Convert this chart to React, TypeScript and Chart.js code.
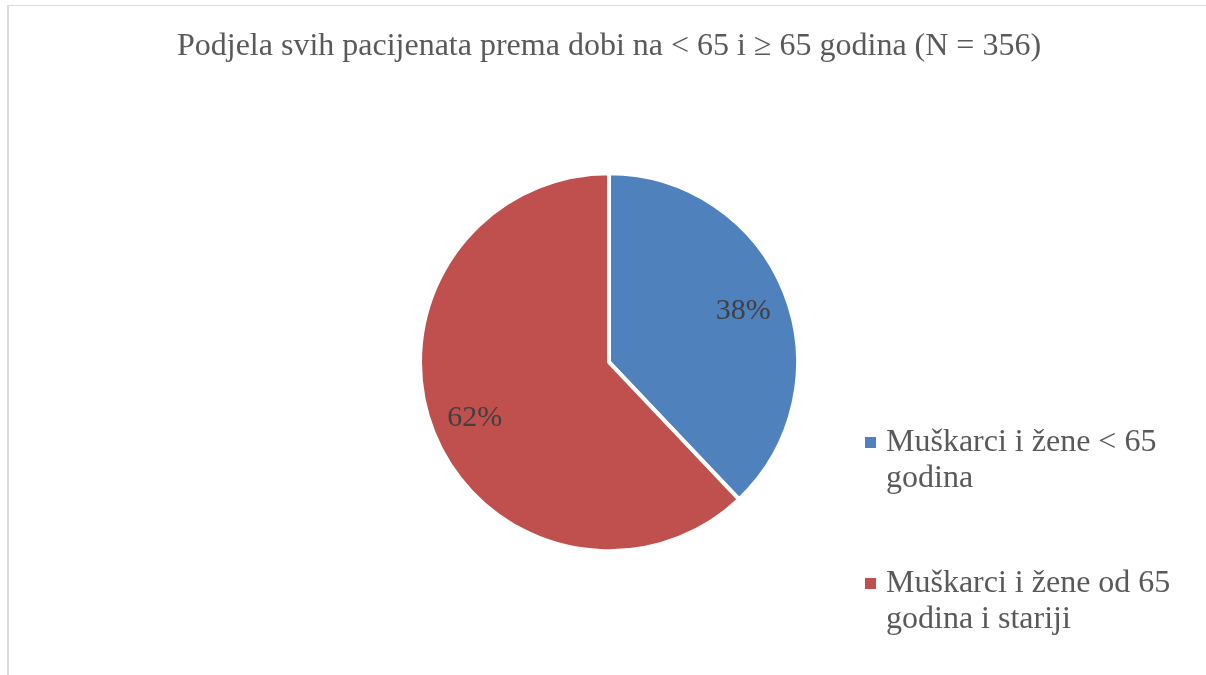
import React, { useEffect, useRef } from "react";
import { Chart, registerables } from "chart.js";

Chart.register(...registerables);

const titleText = "Podjela svih pacijenata prema dobi na < 65 i ≥ 65 godina (N = 356)";
const categories = ["Muškarci i žene < 65 godina", "Muškarci i žene od 65 godina i stariji"];
const legendLines = [
  ["Muškarci i žene < 65", "godina"],
  ["Muškarci i žene od 65", "godina i stariji"],
];
const counts = [135, 221];
const percentLabels = ["38%", "62%"];
const colors = ["#4F81BD", "#C0504D"];

const SERIF = '"Liberation Serif", "Times New Roman", "DejaVu Serif", serif';

const labelPlugin = {
  id: "sliceLabels",
  afterDatasetsDraw(chart: any) {
    const ctx = chart.ctx;
    const meta = chart.getDatasetMeta(0);
    ctx.save();
    ctx.font = `30px ${SERIF}`;
    ctx.fillStyle = "#404040";
    ctx.textAlign = "center";
    ctx.textBaseline = "middle";
    meta.data.forEach((arc: any, i: number) => {
      const p = arc.getProps(["x", "y", "startAngle", "endAngle", "outerRadius"], true);
      const mid = (p.startAngle + p.endAngle) / 2;
      const r = p.outerRadius * 0.765;
      ctx.fillText(percentLabels[i], p.x + Math.cos(mid) * r, p.y + Math.sin(mid) * r + 2);
    });
    ctx.restore();
  },
};

const legendPlugin = {
  id: "wrappedLegend",
  afterDraw(chart: any) {
    const ctx = chart.ctx;
    ctx.save();
    ctx.font = `32px ${SERIF}`;
    ctx.textAlign = "left";
    ctx.textBaseline = "alphabetic";
    const x0 = 865;
    const firstBaseline = 451;
    const itemGap = 141;
    const lineH = 36;
    legendLines.forEach((lines, i) => {
      const base = firstBaseline + i * itemGap;
      ctx.fillStyle = colors[i];
      ctx.fillRect(x0, base - 14, 11, 11);
      ctx.fillStyle = "#595959";
      lines.forEach((ln, j) => ctx.fillText(ln, x0 + 21, base + j * lineH));
    });
    ctx.restore();
  },
};

export default function App() {
  const ref = useRef<HTMLCanvasElement | null>(null);
  useEffect(() => {
    if (!ref.current) return;
    const chart = new Chart(ref.current, {
      type: "pie",
      data: {
        labels: categories,
        datasets: [
          {
            data: counts,
            backgroundColor: colors,
            borderColor: "#ffffff",
            borderWidth: 4,
          },
        ],
      },
      options: {
        animation: false,
        responsive: false,
        radius: 189,
        layout: { padding: { left: 12, right: 0, top: 0, bottom: 36 } },
        plugins: {
          legend: { display: false },
          tooltip: { enabled: false },
          title: {
            display: true,
            text: titleText,
            color: "#595959",
            font: { family: SERIF, size: 32, weight: "normal" },
            padding: { top: 27, bottom: 20 },
          },
        },
      } as any,
      plugins: [labelPlugin, legendPlugin],
    });
    return () => chart.destroy();
  }, []);

  return (
    <div style={{ position: "fixed", left: 0, top: 0, width: 1206, height: 675, background: "#fff", overflow: "hidden" }}>
      <div
        style={{
          position: "absolute",
          left: 7,
          top: 5,
          right: -10,
          bottom: -10,
          borderLeft: "2px solid #d9d9d9",
          borderTop: "1px solid #d9d9d9",
        }}
      />
      <canvas ref={ref} width={1206} height={675} style={{ position: "absolute", left: 0, top: 0 }} />
    </div>
  );
}
